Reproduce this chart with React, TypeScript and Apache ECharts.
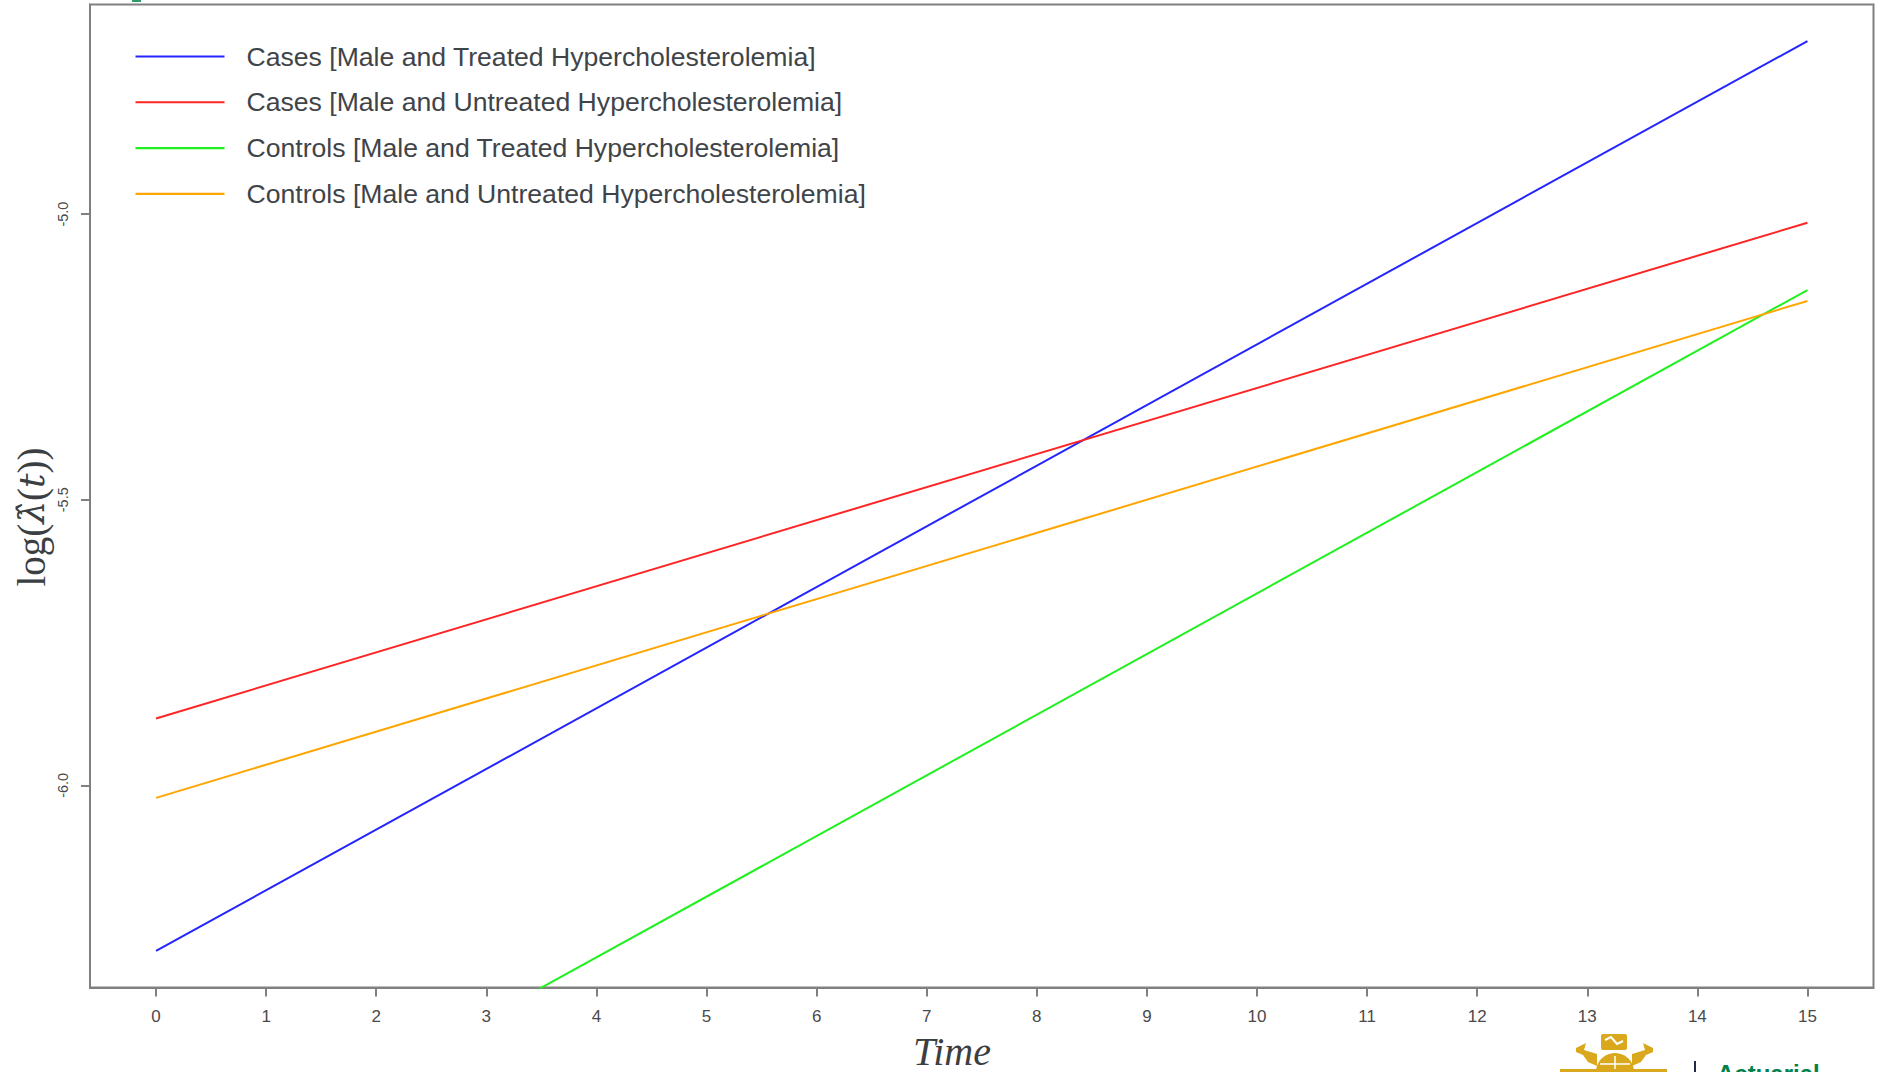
import React, { useEffect, useRef } from "react";
import * as echarts from "echarts";

// ---- data ----
const timePoints = [0, 15];
const casesTreated = [-6.29, -4.697];
const casesUntreated = [-5.883, -5.015];
const controlsTreated = [-6.726, -5.133];
const controlsUntreated = [-6.022, -5.152];

const seriesNames = [
  "Cases [Male and Treated Hypercholesterolemia]",
  "Cases [Male and Untreated Hypercholesterolemia]",
  "Controls [Male and Treated Hypercholesterolemia]",
  "Controls [Male and Untreated Hypercholesterolemia]",
];
const seriesValues = [casesTreated, casesUntreated, controlsTreated, controlsUntreated];
const seriesColors = ["#2424ff", "#ff2424", "#1ff01f", "#ffa500"];

const xTickValues = [0, 1, 2, 3, 4, 5, 6, 7, 8, 9, 10, 11, 12, 13, 14, 15];
const yTickValues = [-6.0, -5.5, -5.0];

const xTitle = "Time";

export default function App() {
  const ref = useRef<HTMLDivElement>(null);

  useEffect(() => {
    if (!ref.current) return;
    const chart = echarts.init(ref.current, null, { renderer: "svg" });
    const axisGrey = "#808080";
    const textGrey = "#4a4a4a";
    const gold = "#d9a81c";
    const lineIcon = "path://M0,0 L100,0 L100,2.4 L0,2.4 Z";

    const option: any = {
      animation: false,
      backgroundColor: "#ffffff",
      grid: {
        left: 90,
        top: 4.5,
        right: 7.5,
        bottom: 84.5,
        show: true,
        borderColor: axisGrey,
        borderWidth: 2,
        backgroundColor: "transparent",
      },
      legend: {
        orient: "vertical",
        left: 130.5,
        top: 38,
        padding: 5,
        itemWidth: 89,
        itemHeight: 26,
        itemGap: 18.8,
        selectedMode: false,
        icon: lineIcon,
        textStyle: {
          fontFamily: "'Liberation Sans', Arial, sans-serif",
          fontSize: 26.6,
          lineHeight: 26,
          color: "#3f4448",
          padding: [0, 0, 0, 17],
        },
        data: seriesNames.map((name) => ({ name, icon: lineIcon })),
      },
      xAxis: {
        type: "value",
        min: -0.6,
        max: 15.6,
        splitLine: { show: false },
        axisLine: { show: true, onZero: false, lineStyle: { color: axisGrey, width: 2 } },
        axisTick: {
          show: true,
          inside: false,
          length: 9,
          lineStyle: { color: axisGrey, width: 2 },
          customValues: xTickValues,
        },
        axisLabel: {
          margin: 20,
          fontFamily: "'Liberation Sans Narrow', 'Liberation Sans', Arial, sans-serif",
          fontSize: 17,
          color: textGrey,
          customValues: xTickValues,
          formatter: (v: number) => String(v),
        },
      },
      yAxis: {
        type: "value",
        min: -6.354,
        max: -4.633,
        splitLine: { show: false },
        axisLine: { show: true, onZero: false, lineStyle: { color: axisGrey, width: 2 } },
        axisTick: {
          show: true,
          inside: false,
          length: 9,
          lineStyle: { color: axisGrey, width: 2 },
          customValues: yTickValues,
        },
        axisLabel: {
          rotate: 90,
          margin: 20,
          fontFamily: "'Liberation Sans', Arial, sans-serif",
          fontSize: 14.5,
          color: textGrey,
          customValues: yTickValues,
          formatter: (v: number) => v.toFixed(1),
        },
      },
      series: seriesNames.map((name, i) => ({
        name,
        type: "line",
        data: timePoints.map((t, j) => [t, seriesValues[i][j]]),
        symbol: "none",
        silent: true,
        clip: true,
        lineStyle: { color: seriesColors[i], width: 2 },
        itemStyle: { color: seriesColors[i] },
        emphasis: { disabled: true },
      })),
      graphic: [
        // axis titles
        {
          type: "text",
          x: 952,
          y: 1051,
          style: {
            text: xTitle,
            fontFamily: "'Liberation Serif', 'DejaVu Serif', serif",
            fontStyle: "italic",
            fontSize: 40,
            lineHeight: 40,
            fill: "#3b3f42",
            align: "center",
            verticalAlign: "middle",
          },
        },
        {
          type: "text",
          x: 31,
          y: 517,
          rotation: Math.PI / 2,
          style: {
            text: "{n|log(}{i|λ̂}{n|(}{i|t}{n|))}",
            align: "center",
            verticalAlign: "middle",
            rich: {
              n: {
                fontFamily: "'Liberation Serif', 'DejaVu Serif', serif",
                fontSize: 39,
                fill: "#3b3f42",
              },
              i: {
                fontFamily: "'DejaVu Serif', 'Liberation Serif', serif",
                fontStyle: "italic",
                fontSize: 36,
                fill: "#3b3f42",
              },
            },
          },
        },
        // small teal fragment at top-left (cut-off slide element)
        { type: "rect", shape: { x: 132, y: 0, width: 9, height: 2 }, style: { fill: "#2a9d6a" } },
        // crest logo (simplified)
        {
          type: "group",
          children: [
            { type: "rect", shape: { x: 1601, y: 1034, width: 26, height: 16, r: 2 }, style: { fill: gold } },
            {
              type: "polyline",
              shape: { points: [[1605, 1040], [1611, 1037], [1617, 1044], [1623, 1041]] },
              style: { stroke: "#ffffff", lineWidth: 2, fill: "none" },
            },
            {
              type: "polygon",
              shape: { points: [[1576, 1048], [1586, 1043], [1584, 1050], [1597, 1054], [1597, 1066], [1588, 1062], [1583, 1055], [1576, 1052]] },
              style: { fill: gold },
            },
            {
              type: "polygon",
              shape: { points: [[1653, 1048], [1643, 1043], [1645, 1050], [1632, 1054], [1632, 1066], [1641, 1062], [1646, 1055], [1653, 1052]] },
              style: { fill: gold },
            },
            { type: "circle", shape: { cx: 1615, cy: 1072, r: 19 }, style: { fill: gold } },
            { type: "line", shape: { x1: 1615, y1: 1056, x2: 1615, y2: 1072 }, style: { stroke: "#ffffff", lineWidth: 1.5 } },
            { type: "line", shape: { x1: 1600, y1: 1064, x2: 1630, y2: 1064 }, style: { stroke: "#ffffff", lineWidth: 1.5 } },
            { type: "rect", shape: { x: 1560, y: 1069, width: 107, height: 3 }, style: { fill: gold } },
          ],
        },
        { type: "line", shape: { x1: 1695, y1: 1061, x2: 1695, y2: 1072 }, style: { stroke: "#1e2b4a", lineWidth: 2 } },
        {
          type: "text",
          x: 1717,
          y: 1061,
          style: {
            text: "Actuarial",
            fontFamily: "'Liberation Sans', Arial, sans-serif",
            fontWeight: "bold",
            fontSize: 24,
            fill: "#00814b",
            align: "left",
            verticalAlign: "top",
          },
        },
      ],
    };

    chart.setOption(option);
    return () => chart.dispose();
  }, []);

  return (
    <div
      ref={ref}
      style={{ position: "fixed", left: 0, top: 0, width: 1881, height: 1072, background: "#fff" }}
    />
  );
}
